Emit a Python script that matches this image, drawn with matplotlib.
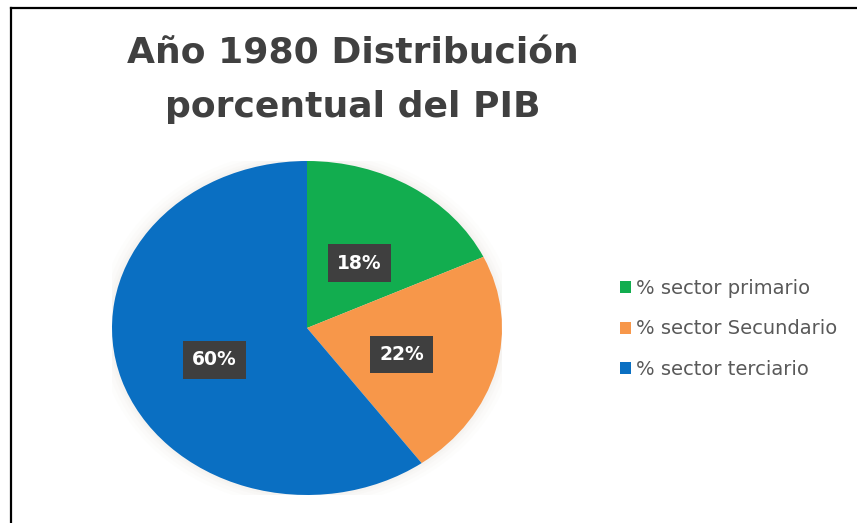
import matplotlib
matplotlib.use("Agg")
import matplotlib.pyplot as plt
from matplotlib.patches import Patch, Ellipse
from matplotlib.lines import Line2D

# Data
sectors = ["% sector primario", "% sector Secundario", "% sector terciario"]
shares = [18, 22, 60]
colors = ["#12AD4F", "#F7974A", "#0A6FC2"]
title_lines = ["Año 1980 Distribución", "porcentual del PIB"]

W, H = 857, 523
fig = plt.figure(figsize=(W / 100, H / 100), dpi=100)
fig.patch.set_facecolor("white")

# pie geometry (pixels)
cx, cy, rx, ry = 307, 328, 195, 167
ax = fig.add_axes([(cx - rx) / W, (H - cy - ry) / H, 2 * rx / W, 2 * ry / H])

# soft glow around the pie
for k, a in [(1.07, 0.04), (1.05, 0.05), (1.03, 0.06), (1.015, 0.08)]:
    ax.add_patch(Ellipse((0, 0), 2 * k, 2 * k, facecolor="#d8d0c4", alpha=a,
                         edgecolor="none", zorder=0))

wedges, texts, autotexts = ax.pie(
    shares, colors=colors, startangle=90, counterclock=False,
    autopct=lambda p: f"{p:.0f}%", pctdistance=0.5,
    wedgeprops=dict(linewidth=0),
    textprops=dict(color="white", fontsize=13.5, fontweight="bold", family="DejaVu Sans"),
)
for t in autotexts:
    x, y = t.get_position()
    t.set_position((x, y - 0.035))
    t.set_bbox(dict(facecolor="#3f3f3f", edgecolor="none", boxstyle="square,pad=0.5"))
ax.set_aspect("auto")
ax.set_xlim(-1, 1)
ax.set_ylim(-1, 1)
ax.axis("off")

# title
for line, base in zip(title_lines, [63, 117]):
    fig.text(353 / W, 1 - base / H, line, ha="center", va="baseline", fontsize=26,
             fontweight="bold", family="DejaVu Sans", color="#404040")

# legend
handles = [Patch(facecolor=c, edgecolor="none") for c in colors]
fig.legend(handles, sectors, loc="center left", bbox_to_anchor=(602 / W, 1 - 329 / H),
           frameon=False, handlelength=0.57, handleheight=0.57,
           handletextpad=0.3, labelspacing=1.1, labelcolor="#595959",
           prop=dict(family="DejaVu Sans", size=14))

# screenshot border lines (top and left)
fig.add_artist(Line2D([11 / W, 1], [1 - 8 / H, 1 - 8 / H], color="black", lw=1.6,
                      transform=fig.transFigure))
fig.add_artist(Line2D([11 / W, 11 / W], [0, 1 - 8 / H], color="black", lw=1.6,
                      transform=fig.transFigure))

fig.savefig("out.png", dpi=100)
